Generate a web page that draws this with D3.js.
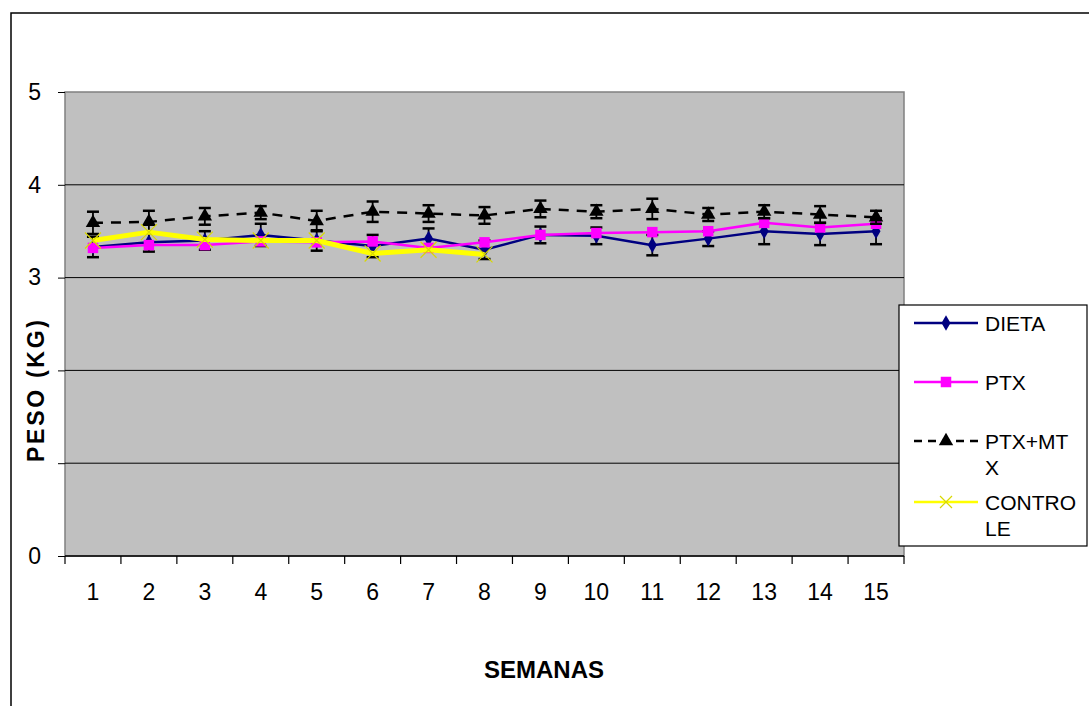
<!DOCTYPE html>
<html><head><meta charset="utf-8">
<script src="https://cdn.jsdelivr.net/npm/d3@7"></script>
<style>body{margin:0;background:#fff}svg{display:block}text{font-family:"Liberation Sans",Arial,sans-serif}</style>
</head><body>
<script>
const weeks = [1,2,3,4,5,6,7,8,9,10,11,12,13,14,15];
const dieta = [3.33,3.38,3.40,3.46,3.40,3.34,3.42,3.30,3.46,3.45,3.35,3.42,3.50,3.47,3.50];
const dietaErr = [0.11,0.10,0.10,0.12,0.11,0.12,0.11,0.10,0.09,0.09,0.11,0.08,0.14,0.12,0.14];
const ptx = [3.32,3.35,3.35,3.39,3.38,3.39,3.32,3.38,3.46,3.48,3.49,3.50,3.59,3.54,3.58];
const ptxmtx = [3.59,3.60,3.66,3.70,3.61,3.71,3.69,3.67,3.74,3.71,3.74,3.68,3.71,3.68,3.65];
const ptxmtxErr = [0.12,0.12,0.09,0.07,0.11,0.11,0.09,0.09,0.09,0.07,0.11,0.07,0.07,0.09,0.07];
const controle = [3.40,3.49,3.41,3.40,3.40,3.26,3.30,3.25];
const yTicks = [0,1,2,3,4,5];
const legendNames = [["DIETA"],["PTX"],["PTX+MT","X"],["CONTRO","LE"]];

const W=1089,H=706;
const svg=d3.select("body").append("svg").attr("width",W).attr("height",H);
svg.append("rect").attr("x",11).attr("y",13).attr("width",1200).attr("height",800)
  .attr("fill","#fff").attr("stroke","#000").attr("stroke-width",1.5);

const L=65,R=904,T=92,B=556;
const x=d3.scaleBand().domain(weeks).range([L,R]);
const y=d3.scaleLinear().domain([0,5]).range([B,T]);
const cx=d=>x(d)+x.bandwidth()/2;

svg.append("rect").attr("x",L).attr("y",T).attr("width",R-L).attr("height",B-T)
  .attr("fill","#C0C0C0").attr("stroke","#808080").attr("stroke-width",1.5);
svg.append("g").selectAll("line").data(yTicks.filter(v=>v>0&&v<5)).join("line")
  .attr("x1",L).attr("x2",R).attr("y1",d=>y(d)).attr("y2",d=>y(d)).attr("stroke","#000").attr("stroke-width",1);

const ya=svg.append("g").attr("transform",`translate(${L},0)`)
  .call(d3.axisLeft(y).tickValues(yTicks).tickSize(7).tickPadding(17).tickFormat(d3.format("d")));
ya.select(".domain").remove();
ya.selectAll("line").attr("stroke","#000");
ya.selectAll("text").attr("font-size",23).attr("fill","#000").style("font-family","Liberation Sans, Arial");

const xa=svg.append("g").attr("transform",`translate(0,${B})`)
  .call(d3.axisBottom(x).tickSize(0).tickPadding(28));
xa.select(".domain").attr("stroke","#000").attr("stroke-width",1.5).attr("d",`M${L},0H${R}`);
xa.selectAll("text").attr("font-size",23).attr("fill","#000").style("font-family","Liberation Sans, Arial");
const bounds=weeks.map(w=>x(w)).concat([R]);
svg.append("g").selectAll("line").data(bounds).join("line")
  .attr("x1",d=>d).attr("x2",d=>d).attr("y1",B).attr("y2",B+8).attr("stroke","#000").attr("stroke-width",1.2);

function errBars(vals,errs){
  const g=svg.append("g").attr("stroke","#000").attr("stroke-width",1.8);
  weeks.forEach((w,i)=>{
    const X=cx(w),y1=y(vals[i]+errs[i]),y2=y(vals[i]-errs[i]);
    g.append("line").attr("x1",X).attr("x2",X).attr("y1",y1).attr("y2",y2);
    g.append("line").attr("x1",X-6).attr("x2",X+6).attr("y1",y1).attr("y2",y1).attr("stroke-width",2.5);
    g.append("line").attr("x1",X-6).attr("x2",X+6).attr("y1",y2).attr("y2",y2).attr("stroke-width",2.5);
  });
}
const line=d3.line().x((d,i)=>cx(weeks[i])).y(d=>y(d));

const sym={
  diamond:d3.symbol().type(d3.symbolDiamond).size(70),
  square:d3.symbol().type(d3.symbolSquare).size(110),
  triangle:d3.symbol().type(d3.symbolTriangle).size(90),
};
function xMark(g,X,Y,s){
  g.append("path").attr("d",`M${X-s},${Y-s}L${X+s},${Y+s}M${X-s},${Y+s}L${X+s},${Y-s}`)
   .attr("stroke","#D8D800").attr("stroke-width",1.2).attr("fill","none");
}

errBars(dieta,dietaErr);
svg.append("path").attr("d",line(dieta)).attr("fill","none").attr("stroke","#000080").attr("stroke-width",2.5);
svg.append("g").selectAll("path").data(dieta).join("path")
  .attr("transform",(d,i)=>`translate(${cx(weeks[i])},${y(d)})`).attr("d",sym.diamond()).attr("fill","#000080");
svg.append("path").attr("d",line(ptx)).attr("fill","none").attr("stroke","#FF00FF").attr("stroke-width",2.5);
svg.append("g").selectAll("path").data(ptx).join("path")
  .attr("transform",(d,i)=>`translate(${cx(weeks[i])},${y(d)})`).attr("d",sym.square()).attr("fill","#FF00FF");
errBars(ptxmtx,ptxmtxErr);
svg.append("path").attr("d",line(ptxmtx)).attr("fill","none").attr("stroke","#000").attr("stroke-width",2.5).attr("stroke-dasharray","10,8");
svg.append("g").selectAll("path").data(ptxmtx).join("path")
  .attr("transform",(d,i)=>`translate(${cx(weeks[i])},${y(d)})`).attr("d",sym.triangle()).attr("fill","#000");
svg.append("path").attr("d",line(controle)).attr("fill","none").attr("stroke","#FFFF00").attr("stroke-width",5).attr("stroke-linejoin","round");
const cg=svg.append("g");
controle.forEach((d,i)=>xMark(cg,cx(weeks[i]),y(d),8));

svg.append("text").attr("x",544).attr("y",678).attr("text-anchor","middle")
  .attr("font-size",24).attr("font-weight","bold").text("SEMANAS");
svg.append("rect").attr("x",18).attr("y",315).attr("width",32).attr("height",162).attr("fill","#fff");
svg.append("text").attr("transform","translate(44,391) rotate(-90)").attr("text-anchor","middle")
  .attr("font-size",23).attr("font-weight","bold").attr("textLength",142).attr("lengthAdjust","spacing").text("PESO (KG)");

const lg=svg.append("g");
lg.append("rect").attr("x",899).attr("y",305).attr("width",188).attr("height",241).attr("fill","#fff").attr("stroke","#000").attr("stroke-width",1.2);
const rows=[323,382,441,502];
const styles=[
  {c:"#000080",w:2.5,dash:null,m:"diamond"},
  {c:"#FF00FF",w:2.5,dash:null,m:"square"},
  {c:"#000",w:2.5,dash:"8,6",m:"triangle"},
  {c:"#FFFF00",w:2.5,dash:null,m:"x"},
];
rows.forEach((ry,i)=>{
  const s=styles[i];
  const ln=lg.append("line").attr("x1",914).attr("x2",978).attr("y1",ry).attr("y2",ry).attr("stroke",s.c).attr("stroke-width",s.w);
  if(s.dash) ln.attr("stroke-dasharray",s.dash);
  if(s.m==="x") xMark(lg,946,ry,6);
  else lg.append("path").attr("transform",`translate(946,${ry})`).attr("d",sym[s.m]()).attr("fill",s.c);
  legendNames[i].forEach((t,j)=>{
    lg.append("text").attr("x",985).attr("y",ry+8+j*26).attr("font-size",21).attr("fill","#000").text(t);
  });
});
</script>
</body></html>
